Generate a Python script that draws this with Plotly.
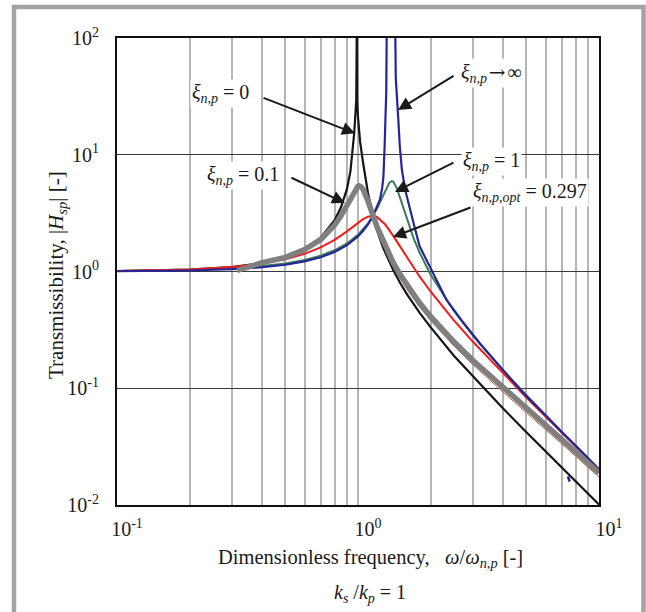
import math
import plotly.graph_objects as go

# ---------------- data ----------------
freq_black = [0.1, 0.2, 0.3, 0.4, 0.5, 0.6, 0.7, 0.8, 0.85, 0.9, 0.93, 0.95, 0.965, 0.975, 0.983,
              0.986, 0.988, 0.99, 0.992, 1.0, 1.02, 1.05, 1.08, 1.1, 1.15, 1.2, 1.27, 1.3, 1.4, 1.5,
              1.6, 1.8, 2.0, 2.5, 3.0, 4.0, 5.0, 6.0, 7.0, 8.0, 10.0]
trans_black = [1.01, 1.04, 1.09, 1.18, 1.32, 1.55, 1.95, 2.75, 3.55, 5.1, 7.2, 10.5, 15.5, 22, 29,
               60, 300, 300, 29, 21, 13, 8.5, 6.0, 4.7, 3.1, 2.25, 1.6, 1.43, 1.03, 0.79,
               0.635, 0.445, 0.334, 0.19, 0.127, 0.067, 0.042, 0.0287, 0.0209, 0.0160, 0.0101]

freq_blue = [0.1, 0.2, 0.3, 0.4, 0.5, 0.6, 0.7, 0.8, 0.9, 1.0, 1.05, 1.1, 1.15, 1.2, 1.234, 1.26,
             1.275, 1.29, 1.3, 1.31, 1.32, 1.42, 1.435, 1.45, 1.47, 1.49, 1.52, 1.57, 1.63, 1.7,
             1.8, 2.05, 2.33, 2.7, 3.2, 4.0, 4.85, 6.0, 7.1, 8.5, 10.0]
trans_blue = [1.005, 1.02, 1.047, 1.087, 1.143, 1.22, 1.325, 1.47, 1.68, 2.0, 2.23, 2.53, 2.95, 3.55, 4.15, 5.2,
              6.5, 12, 18, 35, 300, 300, 45, 28, 20, 12, 7.5, 5.0, 3.6, 2.6,
              1.65, 0.96, 0.57, 0.378, 0.243, 0.143, 0.091, 0.0588, 0.041, 0.0285, 0.0199]

freq_blue_blip = [7.43, 7.56]
trans_blue_blip = [0.0176, 0.0159]

freq_green = [0.1, 0.2, 0.3, 0.4, 0.5, 0.6, 0.7, 0.8, 0.9, 1.0, 1.1, 1.2, 1.25, 1.3, 1.35, 1.38,
              1.4, 1.45, 1.5, 1.6, 1.7, 1.8, 2.0, 2.5, 3.0, 4.0, 5.0, 6.0, 7.0, 8.0, 10.0]
trans_green = [1.009, 1.033, 1.067, 1.113, 1.174, 1.256, 1.367, 1.52, 1.74, 2.06, 2.58, 3.47, 4.15, 4.99, 5.77, 5.95,
               5.89, 5.15, 4.17, 2.73, 1.93, 1.455, 0.944, 0.459, 0.282, 0.142, 0.0866, 0.0587, 0.0425, 0.0322, 0.0204]

freq_red = [0.1, 0.2, 0.3, 0.4, 0.5, 0.6, 0.7, 0.8, 0.9, 1.0, 1.05, 1.1, 1.15, 1.2, 1.3, 1.4,
            1.5, 1.6, 1.8, 2.0, 2.5, 3.0, 4.0, 5.0, 6.0, 7.0, 8.0, 10.0]
trans_red = [1.01, 1.04, 1.093, 1.169, 1.275, 1.417, 1.608, 1.865, 2.205, 2.61, 2.81, 2.95, 3.0, 2.93, 2.52, 2.02,
             1.61, 1.30, 0.907, 0.674, 0.382, 0.250, 0.133, 0.0832, 0.0571, 0.0416, 0.0317, 0.0202]

freq_gray = [0.315, 0.35, 0.4, 0.5, 0.6, 0.7, 0.8, 0.85, 0.9, 0.95, 0.98, 1.0, 1.01, 1.03, 1.05, 1.1,
             1.2, 1.3, 1.4, 1.5, 1.6, 1.8, 2.0, 2.5, 3.0, 4.0, 5.0, 6.0, 7.0, 8.0, 10.0]
trans_gray = [1.02, 1.1, 1.19, 1.32, 1.54, 1.88, 2.50, 3.00, 3.71, 4.65, 5.17, 5.38, 5.42, 5.33, 5.06, 4.01,
              2.41, 1.62, 1.19, 0.931, 0.756, 0.540, 0.4125, 0.250, 0.173, 0.1008, 0.0673, 0.0484, 0.0365, 0.0285, 0.0188]

# thin brownish trace peeking out below the thick grey one
freq_brown = [1.3, 1.4, 1.5, 1.6, 1.8, 2.0, 2.5, 3.0, 4.0, 5.0, 6.0, 7.0, 8.0, 10.0]
trans_brown = [1.49, 1.095, 0.857, 0.696, 0.497, 0.380, 0.230, 0.159, 0.0927, 0.0619, 0.0445, 0.0336, 0.0262, 0.0173]

x_tick_vals = [0.1, 1, 10]
x_tick_text = ["10<sup>-1</sup>", "10<sup>0</sup>", "10<sup>1</sup>"]
x_minor_vals = [0.2, 0.3, 0.4, 0.5, 0.6, 0.7, 0.8, 0.9, 2, 3, 4, 5, 6, 7, 8, 9]
y_tick_vals = [0.01, 0.1, 1, 10, 100]
y_tick_text = ["10<sup>-2</sup>", "10<sup>-1</sup>", "10<sup>0</sup>", "10<sup>1</sup>", "10<sup>2</sup>"]

labels = ["<i>ξ</i><sub><i>n,p</i></sub> = 0",
          "<i>ξ</i><sub><i>n,p</i></sub> = 0.1",
          "<i>ξ</i><sub><i>n,p</i></sub>\u200a<span style='font-family:DejaVu Serif'>→</span>\u200a∞",
          "<i>ξ</i><sub><i>n,p</i></sub> = 1",
          "<i>ξ</i><sub><i>n,p,opt</i></sub> = 0.297"]

# ---------------- figure ----------------
SERIF = "Liberation Serif, Times New Roman, serif"
fig = go.Figure()

series = [
    (freq_black, trans_black, "#151515", 2.2),
    (freq_green, trans_green, "#3d7a55", 2.0),
    (freq_red, trans_red, "#f21a1a", 2.0),
    (freq_blue, trans_blue, "#25259a", 2.2),
    (freq_blue_blip, trans_blue_blip, "#25259a", 2.5),
    (freq_brown, trans_brown, "#b4643c", 1.0),
    (freq_gray, trans_gray, "#7f7f7f", 5.5),
]
for fx, fy, col, w in series:
    fig.add_trace(go.Scatter(x=fx, y=fy, mode="lines", line=dict(color=col, width=w),
                             showlegend=False, hoverinfo="skip"))

L, R, T, B = 117, 47, 38, 107
W, H = 646, 612
pw, ph = W - L - R, H - T - B


def px(xp):
    return (xp - L) / pw


def py(yp):
    return (H - B - yp) / ph


fig.update_layout(
    width=W, height=H,
    margin=dict(l=L, r=R, t=T, b=B, pad=0),
    paper_bgcolor="white", plot_bgcolor="white",
    showlegend=False,
    font=dict(family=SERIF, color="#1a1a1a"),
)
fig.update_xaxes(
    type="log", range=[-1, 1],
    tickmode="array", tickvals=x_tick_vals, ticktext=x_tick_text,
    showgrid=True, gridcolor="#b5b5b5", gridwidth=1.5,
    minor=dict(tickmode="array", tickvals=x_minor_vals, showgrid=True,
               gridcolor="#b5b5b5", gridwidth=1.5, ticks=""),
    showline=True, linecolor="#111111", linewidth=2, mirror=True,
    ticks="", zeroline=False, automargin=False,
    tickfont=dict(family=SERIF, size=20, color="#1a1a1a"),
    ticklabelshift=10, ticklabelstandoff=5,
)
fig.update_yaxes(
    type="log", range=[-2, 2],
    tickmode="array", tickvals=y_tick_vals, ticktext=y_tick_text,
    showgrid=True, gridcolor="#3a3a3a", gridwidth=1.3,
    showline=True, linecolor="#111111", linewidth=2, mirror=True,
    ticks="", zeroline=False, automargin=False,
    tickfont=dict(family=SERIF, size=20, color="#1a1a1a"),
    ticklabelstandoff=12,
)

# outer grey frame
fig.add_shape(type="rect", xref="paper", yref="paper",
              x0=px(14), x1=px(643.5), y0=py(640), y1=py(7),
              line=dict(color="#a3a3a3", width=4.5), fillcolor="rgba(0,0,0,0)", layer="below")

# arrows: (head_x, head_y) in data units, tail offset in pixels
arrows = [
    (0.972, 15.27, -93, -36),
    (0.883, 3.86, -55, -26),
    (1.466, 24.2, 57, -35),
    (1.424, 4.80, 60, -30),
    (1.397, 1.975, 79, -30),
]
for hx, hy, ax, ay in arrows:
    fig.add_annotation(x=math.log10(hx), y=math.log10(hy), xref="x", yref="y",
                       ax=ax, ay=ay, axref="pixel", ayref="pixel", text="",
                       showarrow=True, arrowhead=2, arrowsize=1.3, arrowwidth=2,
                       arrowcolor="#1a1a1a", standoff=0, startstandoff=0)

# label text boxes (left edge px, centre y px)
label_pos = [(190, 93), (205, 175), (459, 73), (461, 161), (471, 192)]
for (lx, ly), txt in zip(label_pos, labels):
    fig.add_annotation(x=px(lx), y=py(ly), xref="paper", yref="paper",
                       xanchor="left", yanchor="middle", text=txt, showarrow=False,
                       bgcolor="white", borderpad=1,
                       font=dict(family=SERIF, size=20, color="#1a1a1a"))

# axis titles
fig.add_annotation(x=px(370), y=py(558), xref="paper", yref="paper", showarrow=False,
                   xanchor="center", yanchor="middle",
                   text="Dimensionless frequency,&nbsp;&nbsp; <i>ω</i>/<i>ω</i><sub><i>n,p</i></sub> [-]",
                   font=dict(family=SERIF, size=20.5, color="#1a1a1a"))
fig.add_annotation(x=px(370), y=py(593), xref="paper", yref="paper", showarrow=False,
                   xanchor="center", yanchor="middle",
                   text="<i>k</i><sub><i>s</i></sub> /<i>k</i><sub><i>p</i></sub> = 1",
                   font=dict(family=SERIF, size=20, color="#1a1a1a"))
fig.add_annotation(x=px(57), y=py(275), xref="paper", yref="paper", showarrow=False,
                   xanchor="center", yanchor="middle", textangle=-90,
                   text="Transmissibility, |<i>H</i><sub><i>sp</i></sub>| [-]",
                   font=dict(family=SERIF, size=21, color="#1a1a1a"))

fig.write_html("out.html",
               config={"displayModeBar": False},
               post_script="document.body.style.margin='0px';document.body.style.overflow='hidden';")
